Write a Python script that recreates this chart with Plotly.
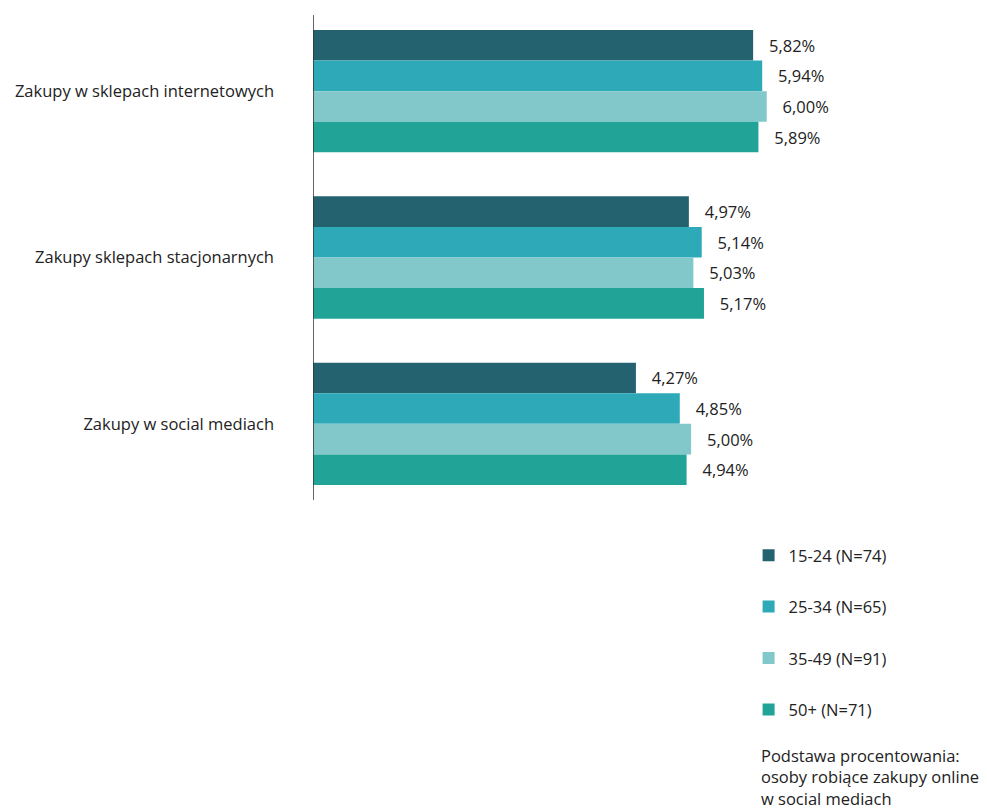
import plotly.graph_objects as go

CATEGORIES = [
    "Zakupy w sklepach internetowych",
    "Zakupy sklepach stacjonarnych",
    "Zakupy w social mediach",
]
SERIES = ["15-24 (N=74)", "25-34 (N=65)", "35-49 (N=91)", "50+ (N=71)"]
VALUES = [
    [5.82, 4.97, 4.27],
    [5.94, 5.14, 4.85],
    [6.00, 5.03, 5.00],
    [5.89, 5.17, 4.94],
]
COLORS = ["#246270", "#2ea9b8", "#82c8cb", "#22a397"]
NOTE = "Podstawa procentowania:<br>osoby robiące zakupy online<br>w social mediach"

FONT = "Open Sans"

fig = go.Figure()
for i, (name, vals) in enumerate(zip(SERIES, VALUES)):
    fig.add_trace(
        go.Bar(
            y=CATEGORIES,
            x=vals,
            orientation="h",
            name=name,
            legendgroup=f"g{i}",
            marker=dict(color=COLORS[i], line=dict(width=0)),
            text=["\u00a0\u00a0\u00a0" + f"{v:.2f}%".replace(".", ",") for v in vals],
            textposition="outside",
            textfont=dict(size=16.5, color="#222222"),
            cliponaxis=False,
        )
    )

fig.update_layout(
    width=987,
    height=812,
    template="plotly_white",
    plot_bgcolor="white",
    paper_bgcolor="white",
    font=dict(family=FONT, size=16.5, color="#222222"),
    barmode="group",
    bargap=0.265,
    bargroupgap=0,
    margin=dict(l=305, r=77, t=0, b=313),
    showlegend=True,
    legend=dict(
        x=0.72,
        y=-0.062,
        xanchor="left",
        yanchor="top",
        traceorder="grouped",
        tracegroupgap=27,
        font=dict(size=16.5, family=FONT, color="#222222"),
        itemclick=False,
    ),
    xaxis=dict(
        range=[0, 8],
        visible=False,
        showgrid=False,
        zeroline=False,
    ),
    yaxis=dict(
        autorange="reversed",
        showgrid=False,
        showline=False,
        zeroline=False,
        ticks="",
        ticklabelstandoff=38,
        tickfont=dict(size=16.5, family=FONT, color="#222222"),
    ),
)

fig.add_shape(
    type="line",
    xref="x",
    yref="paper",
    x0=0,
    x1=0,
    y0=7 / 499,
    y1=492 / 499,
    line=dict(color="#333333", width=1.5),
)

fig.add_annotation(
    text=NOTE,
    xref="paper",
    yref="paper",
    x=0.738,
    y=-0.471,
    xanchor="left",
    yanchor="top",
    align="left",
    showarrow=False,
    font=dict(size=16.5, family=FONT, color="#222222"),
)

fig.write_html("out.html")
